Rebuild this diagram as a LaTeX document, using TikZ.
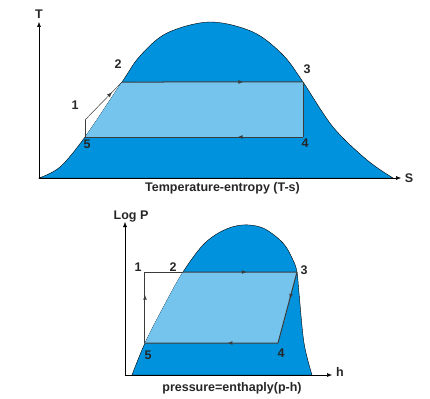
\documentclass[tikz,border=0pt]{standalone}
\usepackage{fontspec}
\setmainfont{Liberation Sans}
\usepackage{xcolor}
\usetikzlibrary{arrows.meta,intersections,decorations.markings}

\definecolor{domeblue}{RGB}{0,146,221}
\definecolor{cycleblue}{RGB}{116,196,238}
\definecolor{cyclegray}{RGB}{60,60,60}

\tikzset{
	lbl/.style={font=\fontsize{12.5}{15}\selectfont\bfseries,text=black!85,inner sep=0pt},
	axis/.style={line width=0.5pt,-{Latex[length=5pt,width=4pt]}},
	cycleline/.style={line width=1pt,draw=cyclegray},
	thinline/.style={line width=0.5pt,draw=cyclegray},
	midarrow/.style={postaction={decorate},decoration={markings,mark=at position #1 with {\arrow{Latex[length=5pt,width=4pt]}}}}
}

\begin{document}
\begin{tikzpicture}[x=1pt,y=-1pt]
		\useasboundingbox (0,0) rectangle (430,398);
		% temperature-entropy
		\path[name path=tsdome,save path=\tsdome] plot[smooth,tension=0.55] coordinates {(39,178) (60,167) (85,137) (122,82) (140,56) (167,33) (210,22) (253,32) (283,55) (303,82) (333,127) (367,160) (393,178)} -- cycle;
		\filldraw[fill=domeblue,draw=black,line width=0.4pt,use path=\tsdome];
		\path[name path=tshigh] (39,82) -- (400,82);
		\path[name path=tslow] (39,137) -- (200,137);
		\path[name intersections={of=tsdome and tshigh,sort by=tshigh,by={t2,t3}}];
		\path[name intersections={of=tsdome and tslow,by=t5}];
		\coordinate (t4) at (t3 |- t5);
		\coordinate (t1) at ([yshift=17pt]t5);
		\begin{scope}
			\clip[use path=\tsdome];
			\fill[cycleblue] (t1 |- t2) -- (t3) -- (t4) -- (t5) -- cycle;
		\end{scope}
		\draw[thinline] (t5) -- (t1);
		\draw[thinline,midarrow=0.73] (t1) -- (t2);
		\draw[cycleline,midarrow=0.67] (t2) -- (t3);
		\draw[cycleline] (t3) -- (t4);
		\draw[cycleline,midarrow=0.3] (t4) -- (t5);
		\coordinate (tso) at (39,178);
		\coordinate (tsT) at (39,22);
		\coordinate (tsS) at (401,178);
		\draw[axis] (tso) -- (tsT);
		\draw[axis] (tso) -- (tsS);
		\node[lbl] (lblT) at (39,14) {T};
		\node[lbl] (lblS) at (409,178) {S};
		\node[lbl] (lblt1) at (75,105) {1};
		\node[lbl] (lblt2) at (118,64) {2};
		\node[lbl] (lblt3) at (307,69) {3};
		\node[lbl] (lblt4) at (305,143.5) {4};
		\node[lbl] (lblt5) at (87,144) {5};
		\node[lbl,anchor=base] (tscaption) at (222.5,191) {Temperature-entropy (T-s)};
		% pressure-enthalpy
		\path[name path=phdome,save path=\phdome] plot[smooth,tension=0.55] coordinates {(132,375) (145,343) (164,306) (183,272) (203,245) (222,231) (242,225) (263,228) (283,243) (293,260) (297,272) (299,293) (304,343) (312,375)} -- cycle;
		\filldraw[fill=domeblue,draw=black,line width=0.4pt,use path=\phdome];
		\path[name path=phhigh] (125,272) -- (340,272);
		\path[name path=phlow] (125,343) -- (240,343);
		\path[name intersections={of=phdome and phhigh,sort by=phhigh,by={b2,b3}}];
		\path[name intersections={of=phdome and phlow,by=b5}];
		\coordinate (b4) at (278,343);
		\coordinate (b1) at (b5 |- b2);
		\begin{scope}
			\clip[use path=\phdome];
			\fill[cycleblue] (b1) -- (b3) -- (b4) -- (b5) -- cycle;
		\end{scope}
		\draw[cycleline,midarrow=0.68] (b5) -- (b1);
		\draw[cycleline] (b1) -- (b2);
		\draw[cycleline,midarrow=0.56] (b2) -- (b3);
		\draw[cycleline,midarrow=0.38] (b3) -- (b4);
		\draw[cycleline,midarrow=0.38] (b4) -- (b5);
		\coordinate (pho) at (125,375);
		\coordinate (phP) at (125,222);
		\coordinate (phh) at (332,375);
		\draw[axis] (pho) -- (phP);
		\draw[axis] (pho) -- (phh);
		\node[lbl,anchor=base] (lblP) at (131,219) {Log P};
		\node[lbl] (lblh) at (340,372) {h};
		\node[lbl] (lblb1) at (138,267) {1};
		\node[lbl] (lblb2) at (173,267) {2};
		\node[lbl] (lblb3) at (304,270.5) {3};
		\node[lbl] (lblb4) at (281,353) {4};
		\node[lbl] (lblb5) at (148,355) {5};
		\node[lbl,anchor=base] (phcaption) at (232,391) {pressure=enthaply(p-h)};
	\end{tikzpicture}
\end{document}
